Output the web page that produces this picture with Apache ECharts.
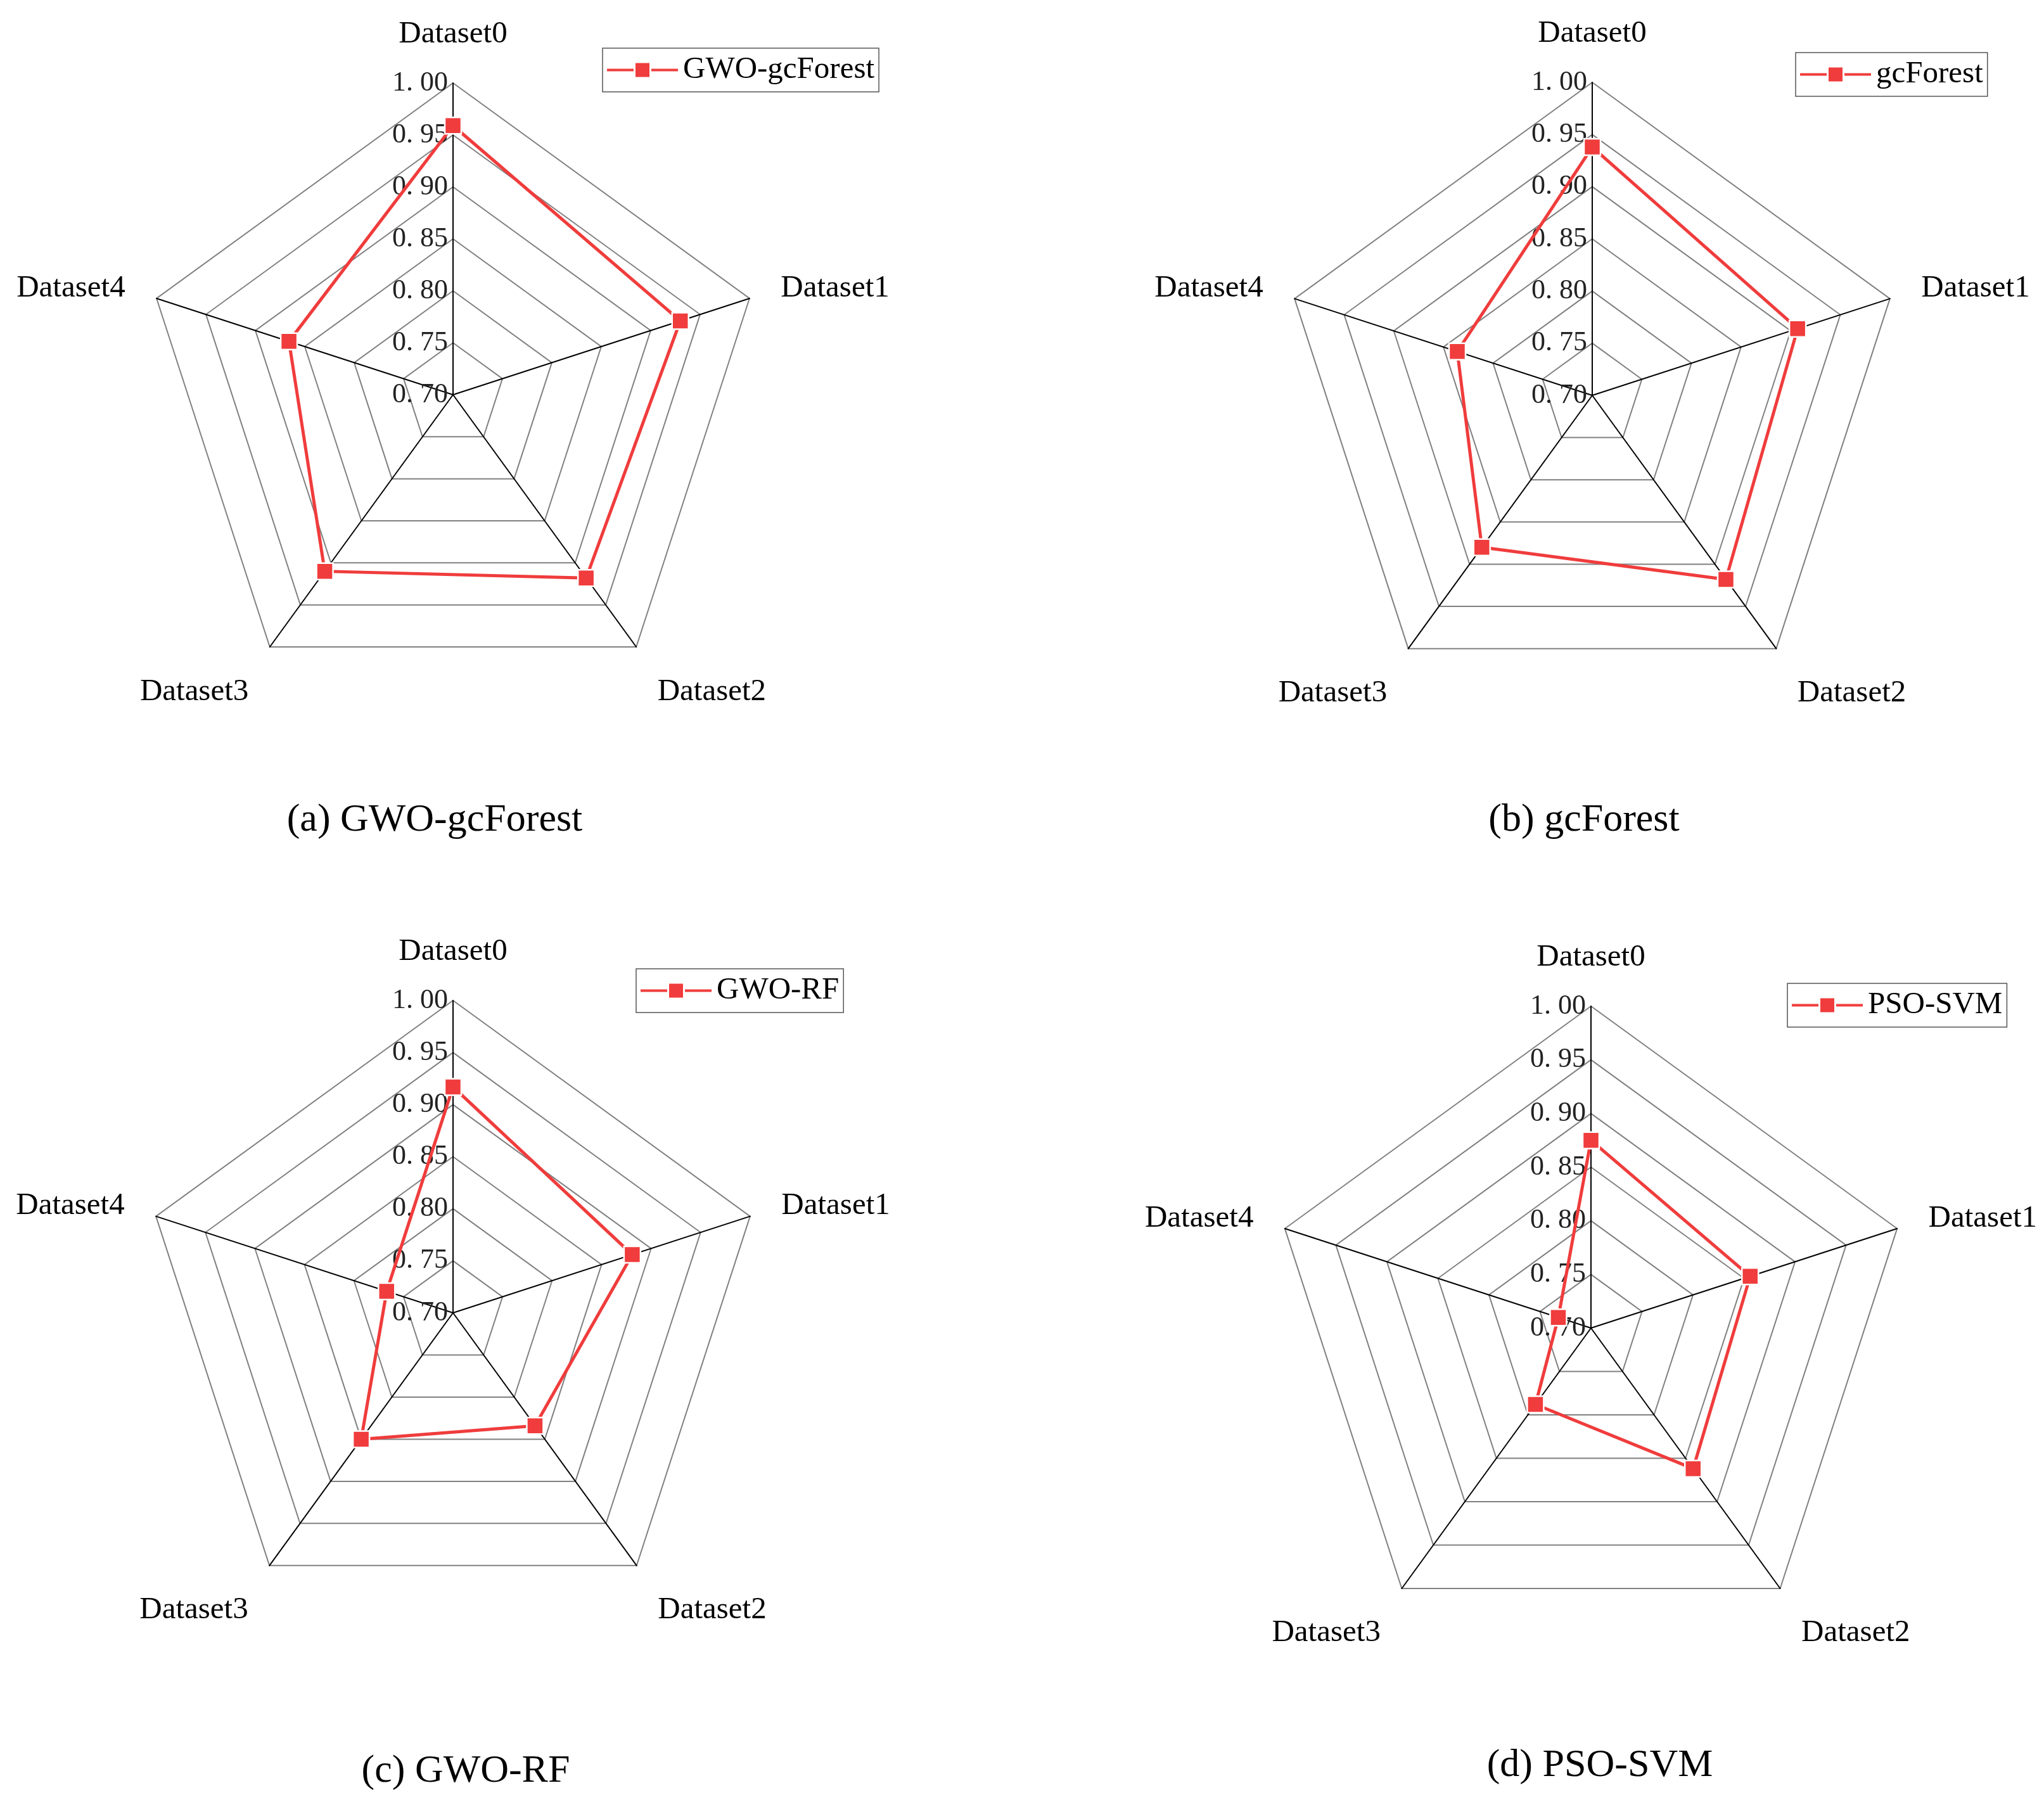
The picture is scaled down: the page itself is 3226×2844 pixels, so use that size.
<!DOCTYPE html>
<html>
<head>
<meta charset="utf-8">
<script src="https://cdn.jsdelivr.net/npm/echarts@6/dist/echarts.min.js"></script>
<style>
  html, body { margin: 0; padding: 0; background: #fff; }
  #chart { width: 3226px; height: 2844px; }
</style>
</head>
<body>
<div id="chart"></div>
<script>
// ---- data ----
const categories = ['Dataset0', 'Dataset1', 'Dataset2', 'Dataset3', 'Dataset4'];
const modelNames = ['GWO-gcForest', 'gcForest', 'GWO-RF', 'PSO-SVM'];
const panelTitles = ['(a) GWO-gcForest', '(b) gcForest', '(c) GWO-RF', '(d) PSO-SVM'];
const gwoGcForest = [0.959, 0.930, 0.918, 0.910, 0.866];
const gcForest    = [0.938, 0.907, 0.918, 0.880, 0.836];
const gwoRF       = [0.917, 0.881, 0.834, 0.850, 0.767];
const psoSvm      = [0.875, 0.856, 0.862, 0.788, 0.732];
const seriesValues = [gwoGcForest, gcForest, gwoRF, psoSvm];
const axisMin = 0.70;
const axisMax = 1.00;
const axisSplits = 6; // 0.70, 0.75, ... 1.00

// ---- layout ----
const radarCenters = [[715, 623], [2513, 624], [715, 2072], [2511, 2096]];
const radarRadii = [492, 494, 493, 508];
const legendBoxes = [[951, 76], [2834, 83], [1004, 1529], [2821, 1552]];
const titlePos = [[686, 1295], [2500, 1295], [735, 2796], [2525, 2787]];

const FONT = "'Liberation Serif', 'Times New Roman', serif";
const RED = '#F03C3C';
// counter-clockwise layout of ECharts radar: top, then left side...
const order = [0, 4, 3, 2, 1];

const chart = echarts.init(document.getElementById('chart'), null, { renderer: 'canvas' });

const radars = radarCenters.map((c, k) => ({
  center: c,
  radius: radarRadii[k],
  shape: 'polygon',
  startAngle: 90,
  splitNumber: axisSplits,
  axisNameGap: 52,
  axisName: { color: '#000', fontFamily: FONT, fontSize: 49 },
  indicator: order.map(i => ({
    name: categories[i],
    min: axisMin,
    max: axisMax,
    nameGap: (i === 2 || i === 3) ? 57 : 52,
    nameTextStyle: (i === 2 || i === 3) ? { verticalAlign: 'top' } : {},
    axisLabel: { show: i === 0 }
  })),
  axisLine: { show: true, lineStyle: { color: '#000', width: 2 } },
  axisTick: { show: false },
  axisLabel: {
    show: false,
    color: '#222',
    fontFamily: FONT,
    fontSize: 44,
    margin: 8,
    formatter: v => v.toFixed(2).replace('.', '. ')
  },
  splitLine: { show: true, lineStyle: { color: '#808080', width: 2 } },
  splitArea: { show: false }
}));

const series = seriesValues.map((vals, k) => ({
  type: 'radar',
  radarIndex: k,
  name: modelNames[k],
  symbol: 'rect',
  symbolSize: 26,
  lineStyle: { color: RED, width: 5 },
  itemStyle: { color: RED, borderColor: '#fff', borderWidth: 2.5 },
  silent: true,
  data: [{ name: modelNames[k], value: order.map(i => vals[i]) }]
}));

const legendIcon = 'path://M0,9L42,9L42,13L0,13Z M45,0L67,0L67,22L45,22Z M70,9L112,9L112,13L70,13Z';
const legends = legendBoxes.map((p, k) => ({
  data: [modelNames[k]],
  left: p[0],
  top: p[1],
  orient: 'horizontal',
  icon: legendIcon,
  itemWidth: 112,
  itemHeight: 22,
  itemStyle: { borderWidth: 0 },
  padding: [10, 7, 10, 7],
  borderColor: '#555',
  borderWidth: 1.5,
  textStyle: { color: '#000', fontFamily: FONT, fontSize: 49, padding: [0, 0, 0, 3] },
  selectedMode: false
}));

const titles = titlePos.map((p, k) => ({
  text: panelTitles[k],
  left: p[0],
  top: p[1],
  textAlign: 'center',
  textVerticalAlign: 'middle',
  padding: 0,
  textStyle: { color: '#000', fontFamily: FONT, fontSize: 62, fontWeight: 'normal' }
}));

chart.setOption({
  backgroundColor: '#fff',
  animation: false,
  title: titles,
  legend: legends,
  radar: radars,
  series: series
});
</script>
</body>
</html>
